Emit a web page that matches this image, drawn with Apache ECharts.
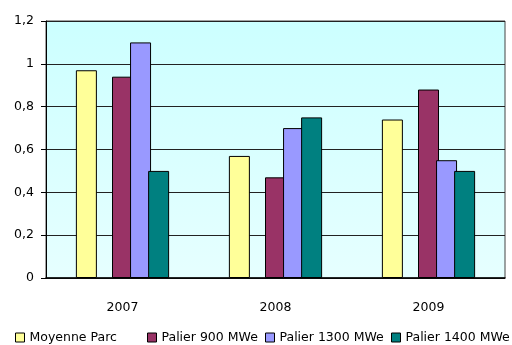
<!DOCTYPE html>
<html>
<head>
<meta charset="utf-8">
<script src="https://cdn.jsdelivr.net/npm/echarts@6/dist/echarts.min.js"></script>
<style>
  html, body { margin: 0; padding: 0; background: #fff; }
  #chart { width: 512px; height: 345px; }
</style>
</head>
<body>
<div id="chart"></div>
<script>
// data
var years = ['2007', '2008', '2009']
var moyenneParc = [0.97, 0.57, 0.74]
var palier900 = [0.94, 0.47, 0.88]
var palier1300 = [1.10, 0.70, 0.55]
var palier1400 = [0.50, 0.75, 0.50]
var yTicks = ['0', '0,2', '0,4', '0,6', '0,8', '1', '1,2']

var font = 'DejaVu Sans'
var fontSize = 12.5

function bar(name, data, color) {
  return {
    name: name,
    type: 'bar',
    data: data,
    barWidth: 21,
    barGap: '-14%',
    itemStyle: { color: color, borderColor: '#000', borderWidth: 1 },
    emphasis: { disabled: true },
    animation: false
  }
}

function legendAt(name, left) {
  return {
    data: [name],
    left: left,
    top: 331,
    padding: 0,
    icon: 'rect',
    itemWidth: 9,
    itemHeight: 9,
    itemStyle: { borderColor: '#000', borderWidth: 1 },
    textStyle: { fontFamily: font, fontSize: fontSize, color: '#000' }
  }
}

var chart = echarts.init(document.getElementById('chart'))
chart.setOption({
  animation: false,
  grid: {
    left: 46,
    right: 7,
    top: 21,
    bottom: 67,
    show: true,
    borderColor: '#444',
    borderWidth: 1,
    backgroundColor: {
      type: 'linear', x: 0, y: 0, x2: 0, y2: 1,
      colorStops: [
        { offset: 0, color: '#ccffff' },
        { offset: 1, color: '#e6ffff' }
      ]
    }
  },
  legend: [
    legendAt('Moyenne Parc', 15),
    legendAt('Palier 900 MWe', 147),
    legendAt('Palier 1300 MWe', 265),
    legendAt('Palier 1400 MWe', 391)
  ],
  xAxis: {
    type: 'category',
    data: years,
    axisLine: { lineStyle: { color: '#000', width: 1.5 } },
    axisTick: { length: 6, lineStyle: { color: '#000' } },
    axisLabel: { margin: 23, fontFamily: font, fontSize: fontSize, color: '#000' }
  },
  yAxis: {
    type: 'value',
    min: 0,
    max: 1.2,
    interval: 0.2,
    axisLine: { show: true, lineStyle: { color: '#000' } },
    axisTick: { show: true, length: 5, lineStyle: { color: '#000' } },
    splitLine: { lineStyle: { color: '#222', width: 1 } },
    axisLabel: {
      margin: 12,
      fontFamily: font,
      fontSize: fontSize,
      color: '#000',
      formatter: function(v) {
        return yTicks[Math.round(v / 0.2)]
      }
    }
  },
  series: [
    bar('Moyenne Parc', moyenneParc, '#ffff99'),
    bar('', [], 'transparent'),
    bar('Palier 900 MWe', palier900, '#993366'),
    bar('Palier 1300 MWe', palier1300, '#9999ff'),
    bar('Palier 1400 MWe', palier1400, '#008080')
  ]
})
</script>
</body>
</html>
